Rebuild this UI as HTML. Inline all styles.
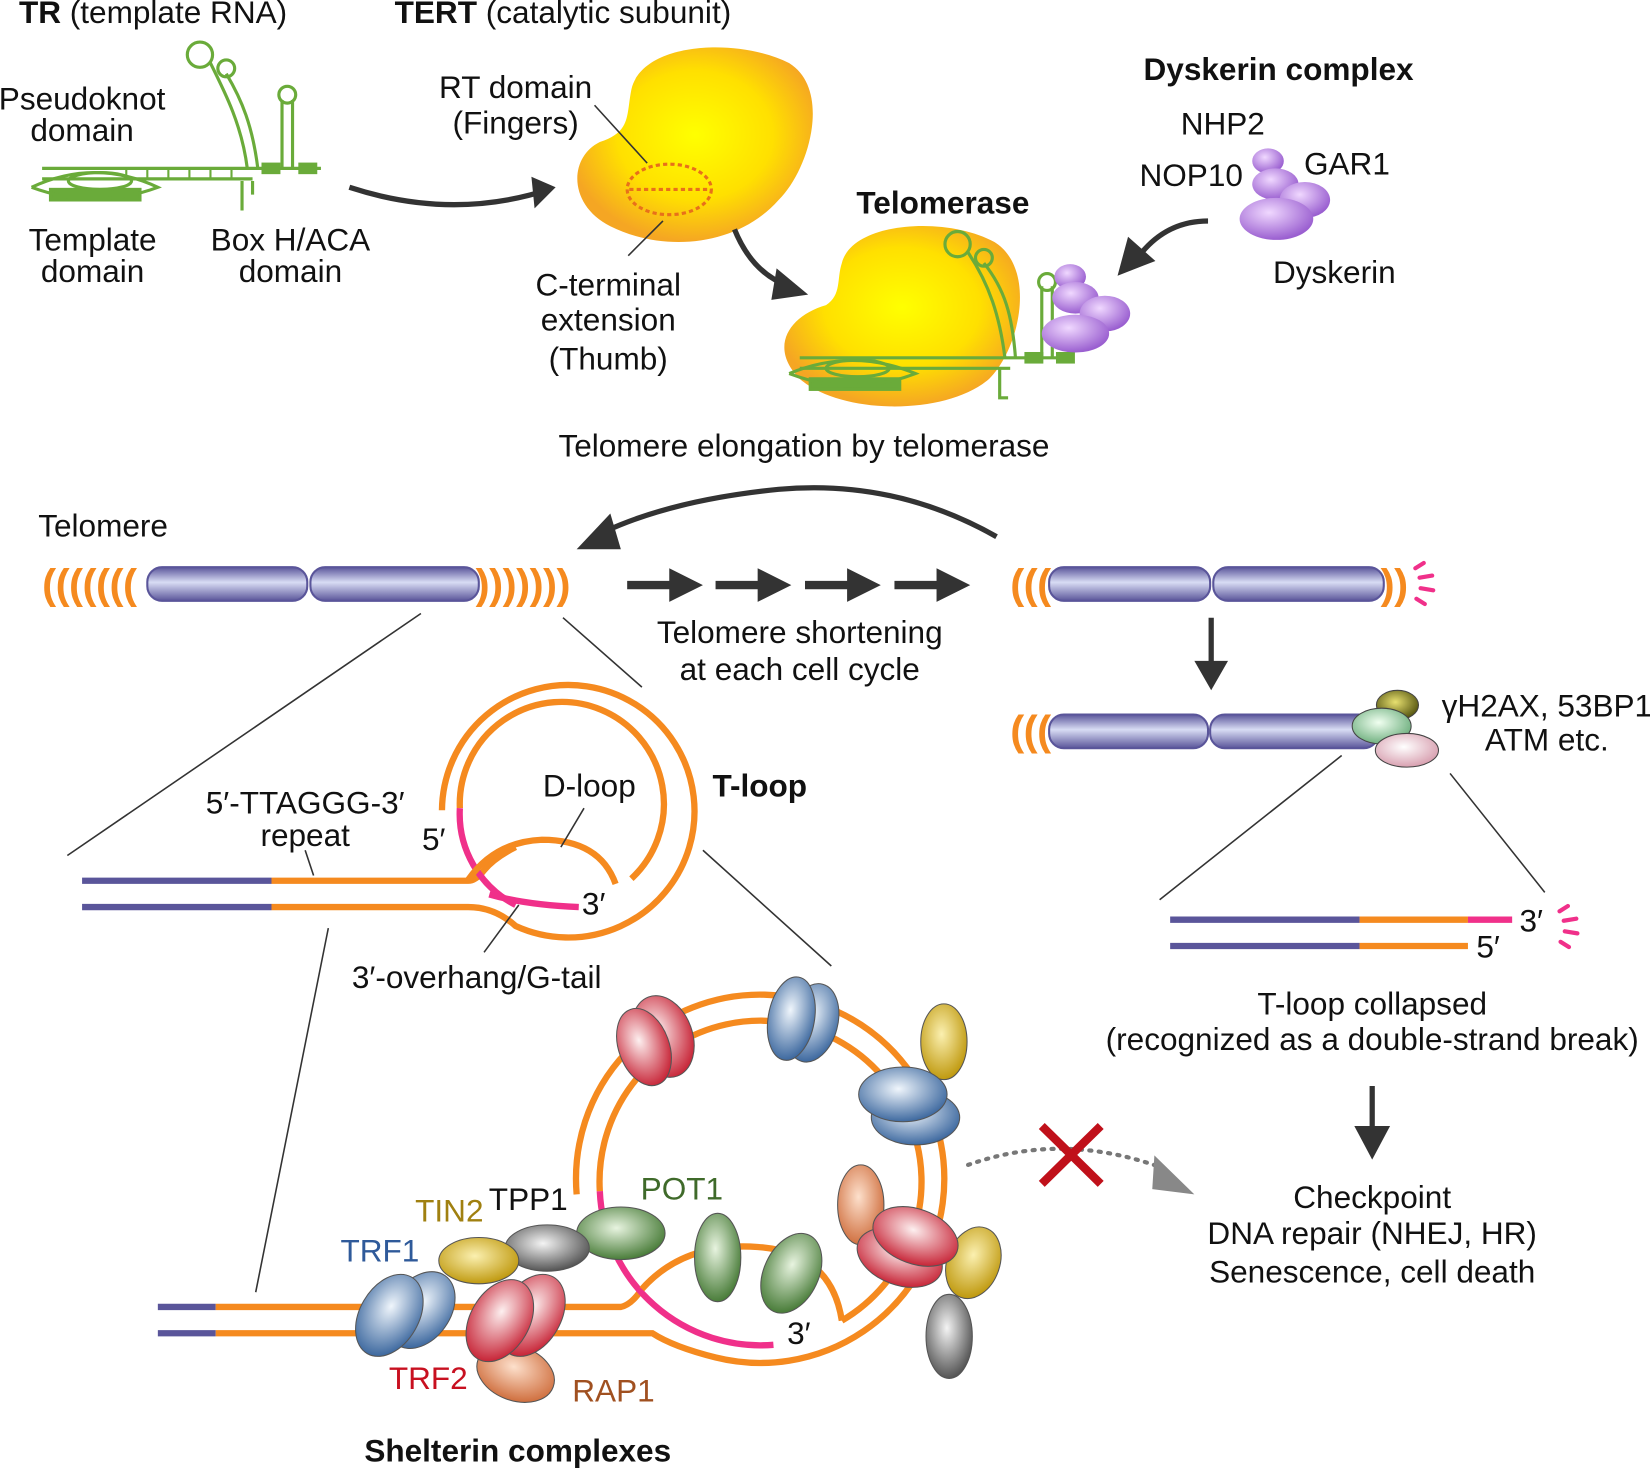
<!DOCTYPE html>
<html><head><meta charset="utf-8"><style>
html,body{margin:0;padding:0;background:#fff}
svg{display:block}
text{font-family:"Liberation Sans",Arial,sans-serif;fill:#111}
</style></head><body>
<svg width="1650" height="1469" viewBox="0 0 1568 1396" preserveAspectRatio="none" xmlns="http://www.w3.org/2000/svg">
<defs>
<radialGradient id="yel" cx="50%" cy="45%" r="55%"><stop offset="0" stop-color="#ffff00"/><stop offset="0.6" stop-color="#ffe000"/><stop offset="1" stop-color="#f5a623"/></radialGradient>
<linearGradient id="bar" x1="0" y1="0" x2="0" y2="1"><stop offset="0" stop-color="#5a559a"/><stop offset="0.45" stop-color="#d8dcf4"/><stop offset="1" stop-color="#5a559a"/></linearGradient>
<radialGradient id="pur" cx="40%" cy="35%" r="65%"><stop offset="0" stop-color="#f0d8ff"/><stop offset="1" stop-color="#9a5fd0"/></radialGradient>
<radialGradient id="red" cx="45%" cy="40%" r="60%"><stop offset="0" stop-color="#fdf0f0"/><stop offset="1" stop-color="#c8283a"/></radialGradient>
<radialGradient id="blu" cx="45%" cy="40%" r="60%"><stop offset="0" stop-color="#f0f6fc"/><stop offset="1" stop-color="#3f6aa0"/></radialGradient>
<radialGradient id="gol" cx="45%" cy="40%" r="60%"><stop offset="0" stop-color="#fbf0b0"/><stop offset="1" stop-color="#c09a10"/></radialGradient>
<radialGradient id="grn" cx="45%" cy="40%" r="60%"><stop offset="0" stop-color="#e8f4e0"/><stop offset="1" stop-color="#4a7d3a"/></radialGradient>
<radialGradient id="gry" cx="45%" cy="40%" r="60%"><stop offset="0" stop-color="#f4f4f4"/><stop offset="1" stop-color="#555"/></radialGradient>
<radialGradient id="org" cx="45%" cy="40%" r="60%"><stop offset="0" stop-color="#fde0cc"/><stop offset="1" stop-color="#d07040"/></radialGradient>
<radialGradient id="pnk" cx="45%" cy="40%" r="60%"><stop offset="0" stop-color="#fff"/><stop offset="1" stop-color="#d8a0b0"/></radialGradient>
<radialGradient id="olv" cx="45%" cy="40%" r="60%"><stop offset="0" stop-color="#e8e070"/><stop offset="1" stop-color="#555510"/></radialGradient>
<radialGradient id="mint" cx="45%" cy="40%" r="60%"><stop offset="0" stop-color="#f0fff0"/><stop offset="1" stop-color="#70b080"/></radialGradient>
<marker id="ah" markerWidth="10" markerHeight="10" refX="6" refY="5" orient="auto" markerUnits="userSpaceOnUse" viewBox="0 0 10 10"><path d="M0,0 L10,5 L0,10z" fill="#333"/></marker>
</defs>

<text x="18" y="22" font-size="30"><tspan font-weight="bold">TR</tspan> (template RNA)</text>
<text x="375" y="22" font-size="30"><tspan font-weight="bold">TERT</tspan> (catalytic subunit)</text>
<text x="78" y="104" font-size="30" text-anchor="middle">Pseudoknot</text>
<text x="78" y="134" font-size="30" text-anchor="middle">domain</text>
<text x="88" y="238" font-size="30" text-anchor="middle">Template</text>
<text x="88" y="268" font-size="30" text-anchor="middle">domain</text>
<text x="276" y="238" font-size="30" text-anchor="middle">Box H/ACA</text>
<text x="276" y="268" font-size="30" text-anchor="middle">domain</text>

<g stroke="#6aab3a" stroke-width="3" fill="none">
<path d="M40,160 H305"/><path d="M40,170 H240"/>
<rect x="48" y="180" width="85" height="10" fill="#6aab3a"/>
<path d="M30,178 Q90,150 150,178 Q90,200 30,178"/>
<ellipse cx="95" cy="172" rx="30" ry="8"/>
<path d="M230,172 V200 M240,172 V185"/>
<path d="M120,160 v10 M140,160 v10 M160,160 v10 M180,160 v10 M200,160 v10 M220,160 v10" stroke-width="2"/>
<path d="M235,160 C230,120 215,90 200,60 M245,160 C240,120 230,95 215,70"/>
<circle cx="190" cy="52" r="12"/><circle cx="215" cy="65" r="8"/>
<path d="M268,160 V95 M278,160 V95"/><circle cx="273" cy="90" r="8"/>
<rect x="250" y="156" width="15" height="8" fill="#6aab3a"/><rect x="285" y="156" width="15" height="8" fill="#6aab3a"/>
</g>
<path d="M332,178 Q430,210 522,180" stroke="#333" stroke-width="5" fill="none" marker-end="url(#ah)"/>
<path d="M505,168 L528,178 L508,198z" fill="#333"/>

<path d="M600,85 C610,40 700,35 750,60 C790,85 770,160 740,190 C700,235 630,240 580,215 C540,195 540,150 570,135 C600,125 595,110 600,85z" fill="url(#yel)"/>
<ellipse cx="636" cy="180" rx="40" ry="24" fill="none" stroke="#e8701a" stroke-width="3" stroke-dasharray="4,3"/>
<path d="M598,180 H674" stroke="#e8701a" stroke-width="3" stroke-dasharray="4,3"/>
<text x="490" y="93" font-size="30" text-anchor="middle">RT domain</text>
<text x="490" y="127" font-size="30" text-anchor="middle">(Fingers)</text>
<path d="M565,100 L615,155 M597,243 L630,210" stroke="#333" stroke-width="1.5"/>
<text x="578" y="281" font-size="30" text-anchor="middle">C-terminal</text>
<text x="578" y="314" font-size="30" text-anchor="middle">extension</text>
<text x="578" y="351" font-size="30" text-anchor="middle">(Thumb)</text>
<path d="M698,218 Q715,260 750,272" stroke="#333" stroke-width="5" fill="none"/>
<path d="M738,255 L768,280 L733,285z" fill="#333"/>

<text x="896" y="203" font-size="30" font-weight="bold" text-anchor="middle">Telomerase</text>
<path d="M800,250 C810,210 900,205 945,230 C985,255 970,330 940,360 C900,395 800,395 760,360 C730,330 750,300 785,290 C800,280 795,265 800,250z" fill="url(#yel)"/>
<g stroke="#6aab3a" stroke-width="3" fill="none">
<path d="M760,340 H1010"/><path d="M760,350 H960"/>
<rect x="770" y="360" width="85" height="10" fill="#6aab3a"/>
<path d="M750,355 Q810,330 870,355 Q810,378 750,355"/>
<ellipse cx="815" cy="350" rx="30" ry="8"/>
<path d="M950,350 V378 H958"/>
<path d="M955,340 C950,300 940,270 920,240 M965,340 C962,300 955,275 935,250"/>
<circle cx="910" cy="232" r="12"/><circle cx="935" cy="245" r="8"/>
<path d="M990,340 V272 M1000,340 V272"/><circle cx="995" cy="268" r="8"/>
<rect x="975" y="336" width="15" height="8" fill="#6aab3a"/><rect x="1005" y="336" width="15" height="8" fill="#6aab3a"/>
</g>
<ellipse cx="1017" cy="263" rx="15" ry="12" fill="url(#pur)"/>
<ellipse cx="1022" cy="283" rx="22" ry="15" fill="url(#pur)"/>
<ellipse cx="1050" cy="298" rx="24" ry="17" fill="url(#pur)"/>
<ellipse cx="1022" cy="317" rx="32" ry="18" fill="url(#pur)"/>

<text x="1215" y="76" font-size="30" font-weight="bold" text-anchor="middle">Dyskerin complex</text>
<text x="1162" y="128" font-size="30" text-anchor="middle">NHP2</text>
<text x="1132" y="177" font-size="30" text-anchor="middle">NOP10</text>
<text x="1280" y="166" font-size="30" text-anchor="middle">GAR1</text>
<text x="1268" y="269" font-size="30" text-anchor="middle">Dyskerin</text>
<ellipse cx="1205" cy="153" rx="15" ry="12" fill="url(#pur)"/>
<ellipse cx="1212" cy="175" rx="22" ry="15" fill="url(#pur)"/>
<ellipse cx="1240" cy="190" rx="24" ry="17" fill="url(#pur)"/>
<ellipse cx="1213" cy="208" rx="35" ry="20" fill="url(#pur)"/>
<path d="M1148,210 Q1110,210 1085,240" stroke="#333" stroke-width="5" fill="none"/>
<path d="M1072,225 L1062,262 L1098,248z" fill="#333"/>

<text x="764" y="434" font-size="30" text-anchor="middle">Telomere elongation by telomerase</text>

<path d="M947,510 Q850,455 740,465 Q640,475 575,505" stroke="#333" stroke-width="5" fill="none"/>
<path d="M548,522 L580,488 L590,522z" fill="#333"/>

<text x="98" y="510" font-size="30" text-anchor="middle">Telomere</text>
<text x="40" y="569" font-size="40" font-weight="bold" letter-spacing="-0.5" style="fill:#f58a1f">(((((((</text>
<rect x="140" y="539" width="152" height="32" rx="14" fill="url(#bar)" stroke="#5a559a" stroke-width="2"/>
<rect x="295" y="539" width="160" height="32" rx="14" fill="url(#bar)" stroke="#5a559a" stroke-width="2"/>
<text x="452" y="569" font-size="40" font-weight="bold" letter-spacing="-0.5" style="fill:#f58a1f">)))))))</text>
<g fill="#333">
<path d="M596,552 h40 v-12 l32,16 l-32,16 v-12 h-40z"/>
<path d="M680,552 h40 v-12 l32,16 l-32,16 v-12 h-40z"/>
<path d="M765,552 h40 v-12 l32,16 l-32,16 v-12 h-40z"/>
<path d="M850,552 h40 v-12 l32,16 l-32,16 v-12 h-40z"/>
</g>
<text x="760" y="611" font-size="30" text-anchor="middle">Telomere shortening</text>
<text x="760" y="646" font-size="30" text-anchor="middle">at each cell cycle</text>

<text x="960" y="569" font-size="40" font-weight="bold" letter-spacing="-0.5" style="fill:#f58a1f">(((</text>
<rect x="997" y="539" width="153" height="32" rx="14" fill="url(#bar)" stroke="#5a559a" stroke-width="2"/>
<rect x="1153" y="539" width="162" height="32" rx="14" fill="url(#bar)" stroke="#5a559a" stroke-width="2"/>
<text x="1312" y="569" font-size="40" font-weight="bold" letter-spacing="-0.5" style="fill:#f58a1f">))</text>
<g stroke="#f0308a" stroke-width="4" stroke-linecap="round">
<path d="M1345,540 l8,-5 M1349,549 l12,-2 M1350,559 l12,2 M1346,569 l8,5"/>
<path d="M1482,866 l8,-5 M1486,875 l12,-2 M1487,885 l12,2 M1483,895 l8,5"/>
</g>
<path d="M1151,587 V632" stroke="#333" stroke-width="5"/>
<path d="M1135,628 h32 l-16,28z" fill="#333"/>

<text x="960" y="708" font-size="40" font-weight="bold" letter-spacing="-0.5" style="fill:#f58a1f">(((</text>
<rect x="997" y="679" width="151" height="32" rx="14" fill="url(#bar)" stroke="#5a559a" stroke-width="2"/>
<rect x="1150" y="679" width="160" height="32" rx="14" fill="url(#bar)" stroke="#5a559a" stroke-width="2"/>
<ellipse cx="1328" cy="670" rx="20" ry="14" fill="url(#olv)" stroke="#444"/>
<ellipse cx="1313" cy="690" rx="28" ry="17" fill="url(#mint)" stroke="#444"/>
<ellipse cx="1337" cy="713" rx="30" ry="16" fill="url(#pnk)" stroke="#444"/>
<text x="1370" y="681" font-size="30">γH2AX, 53BP1</text>
<text x="1470" y="713" font-size="30" text-anchor="middle">ATM etc.</text>
<path d="M1275,718 L1102,855 M1378,735 L1468,848" stroke="#333" stroke-width="1.5"/>

<g stroke-width="6" fill="none">
<path d="M1112,874 H1292" stroke="#5a559a"/><path d="M1292,874 H1395" stroke="#f58a1f"/><path d="M1395,874 H1437" stroke="#f0308a"/>
<path d="M1112,899 H1292" stroke="#5a559a"/><path d="M1292,899 H1395" stroke="#f58a1f"/>
</g>
<text x="1444" y="885" font-size="30">3′</text>
<text x="1403" y="910" font-size="30">5′</text>
<text x="1304" y="964" font-size="30" text-anchor="middle">T-loop collapsed</text>
<text x="1304" y="998" font-size="30" text-anchor="middle">(recognized as a double-strand break)</text>
<path d="M1304,1032 V1075" stroke="#333" stroke-width="5"/>
<path d="M1287,1070 h34 l-17,32z" fill="#333"/>
<text x="1304" y="1148" font-size="30" text-anchor="middle">Checkpoint</text>
<text x="1304" y="1182" font-size="30" text-anchor="middle">DNA repair (NHEJ, HR)</text>
<text x="1304" y="1219" font-size="30" text-anchor="middle">Senescence, cell death</text>

<path d="M920,1107 Q1010,1075 1105,1110" stroke="#777" stroke-width="4" stroke-dasharray="2,7" stroke-linecap="round" fill="none"/>
<path d="M1097,1098 L1135,1135 L1095,1130z" fill="#888"/>
<path d="M990,1070 L1046,1125 M1046,1070 L990,1125" stroke="#c0101a" stroke-width="8"/>

<path d="M400,583 L64,813 M535,587 L610,653 M668,808 L790,918 M312,882 L243,1228" stroke="#333" stroke-width="1.5"/>

<g fill="none" stroke-width="6">
<path d="M78,837 H258 M78,862 H258" stroke="#5a559a"/>
<path d="M258,837 H445 Q452,837 460,827 Q470,815 490,805" stroke="#f58a1f"/>
<path d="M258,862 H445 Q470,862 490,880 A120,120 0 1 0 420,770" stroke="#f58a1f"/>
<path d="M437,768 A97,97 0 1 1 600,835" stroke="#f58a1f"/>
<path d="M437,768 A97,97 0 0 0 490,860" stroke="#f0308a"/>
<path d="M445,836 Q470,800 515,798 Q570,798 585,840" stroke="#f58a1f"/>
<path d="M465,850 Q500,860 550,862" stroke="#f0308a"/>
</g>
<text x="290" y="773" font-size="30" text-anchor="middle">5′-TTAGGG-3′</text>
<text x="290" y="804" font-size="30" text-anchor="middle">repeat</text>
<text x="401" y="808" font-size="30">5′</text>
<text x="560" y="757" font-size="30" text-anchor="middle">D-loop</text>
<text x="722" y="757" font-size="30" font-weight="bold" text-anchor="middle">T-loop</text>
<text x="553" y="869" font-size="30">3′</text>
<text x="453" y="939" font-size="30" text-anchor="middle">3′-overhang/G-tail</text>
<path d="M555,768 L533,805 M290,808 L298,832 M493,860 L460,905" stroke="#333" stroke-width="1.5"/>

<g fill="none" stroke-width="6">
<path d="M150,1242 H205 M150,1267 H205" stroke="#5a559a"/>
<path d="M205,1242 H590 Q600,1240 610,1225" stroke="#f58a1f"/>
<path d="M205,1267 H620 Q640,1280 680,1290 A175,175 0 1 0 548,1135" stroke="#f58a1f"/>
<path d="M570,1132 A153,153 0 1 1 800,1255" stroke="#f58a1f"/>
<path d="M570,1132 A153,153 0 0 0 735,1278" stroke="#f0308a"/>
<path d="M610,1225 Q650,1180 720,1185 Q790,1190 800,1255" stroke="#f58a1f"/>
</g>
<text x="748" y="1277" font-size="30">3′</text>
<ellipse cx="630" cy="985" rx="28" ry="40" transform="rotate(-20 630 985)" fill="url(#red)" stroke="#555"/>
<ellipse cx="612" cy="995" rx="24" ry="38" transform="rotate(-20 612 995)" fill="url(#red)" stroke="#555"/>
<ellipse cx="772" cy="972" rx="24" ry="38" transform="rotate(15 772 972)" fill="url(#blu)" stroke="#555"/>
<ellipse cx="752" cy="968" rx="22" ry="40" transform="rotate(10 752 968)" fill="url(#blu)" stroke="#555"/>
<ellipse cx="897" cy="990" rx="22" ry="36" fill="url(#gol)" stroke="#555"/>
<ellipse cx="870" cy="1062" rx="42" ry="26" fill="url(#blu)" stroke="#555"/>
<ellipse cx="858" cy="1040" rx="42" ry="26" fill="url(#blu)" stroke="#555"/>
<ellipse cx="818" cy="1145" rx="22" ry="38" fill="url(#org)" stroke="#555"/>
<ellipse cx="925" cy="1200" rx="25" ry="35" transform="rotate(20 925 1200)" fill="url(#gol)" stroke="#555"/>
<ellipse cx="902" cy="1270" rx="22" ry="40" fill="url(#gry)" stroke="#555"/>
<ellipse cx="855" cy="1195" rx="42" ry="26" transform="rotate(20 855 1195)" fill="url(#red)" stroke="#555"/>
<ellipse cx="870" cy="1175" rx="42" ry="26" transform="rotate(20 870 1175)" fill="url(#red)" stroke="#555"/>
<ellipse cx="682" cy="1195" rx="22" ry="42" fill="url(#grn)" stroke="#555"/>
<ellipse cx="752" cy="1210" rx="26" ry="40" transform="rotate(25 752 1210)" fill="url(#grn)" stroke="#555"/>
<ellipse cx="590" cy="1172" rx="42" ry="25" fill="url(#grn)" stroke="#555"/>
<ellipse cx="520" cy="1186" rx="40" ry="22" fill="url(#gry)" stroke="#555"/>
<ellipse cx="455" cy="1198" rx="38" ry="22" fill="url(#gol)" stroke="#555"/>
<ellipse cx="490" cy="1305" rx="38" ry="26" transform="rotate(20 490 1305)" fill="url(#org)" stroke="#555"/>
<ellipse cx="400" cy="1245" rx="28" ry="40" transform="rotate(35 400 1245)" fill="url(#blu)" stroke="#555"/>
<ellipse cx="370" cy="1250" rx="28" ry="42" transform="rotate(30 370 1250)" fill="url(#blu)" stroke="#555"/>
<ellipse cx="505" cy="1250" rx="28" ry="42" transform="rotate(30 505 1250)" fill="url(#red)" stroke="#555"/>
<ellipse cx="475" cy="1255" rx="28" ry="42" transform="rotate(30 475 1255)" fill="url(#red)" stroke="#555"/>
<text x="427" y="1161" font-size="30" text-anchor="middle" style="fill:#a08010">TIN2</text>
<text x="502" y="1150" font-size="30" text-anchor="middle">TPP1</text>
<text x="648" y="1140" font-size="30" text-anchor="middle" style="fill:#3f6a2a">POT1</text>
<text x="361" y="1199" font-size="30" text-anchor="middle" style="fill:#2f5a9a">TRF1</text>
<text x="407" y="1320" font-size="30" text-anchor="middle" style="fill:#c81020">TRF2</text>
<text x="583" y="1332" font-size="30" text-anchor="middle" style="fill:#a05020">RAP1</text>
<text x="492" y="1389" font-size="30" font-weight="bold" text-anchor="middle">Shelterin complexes</text>
</svg>
</body></html>
